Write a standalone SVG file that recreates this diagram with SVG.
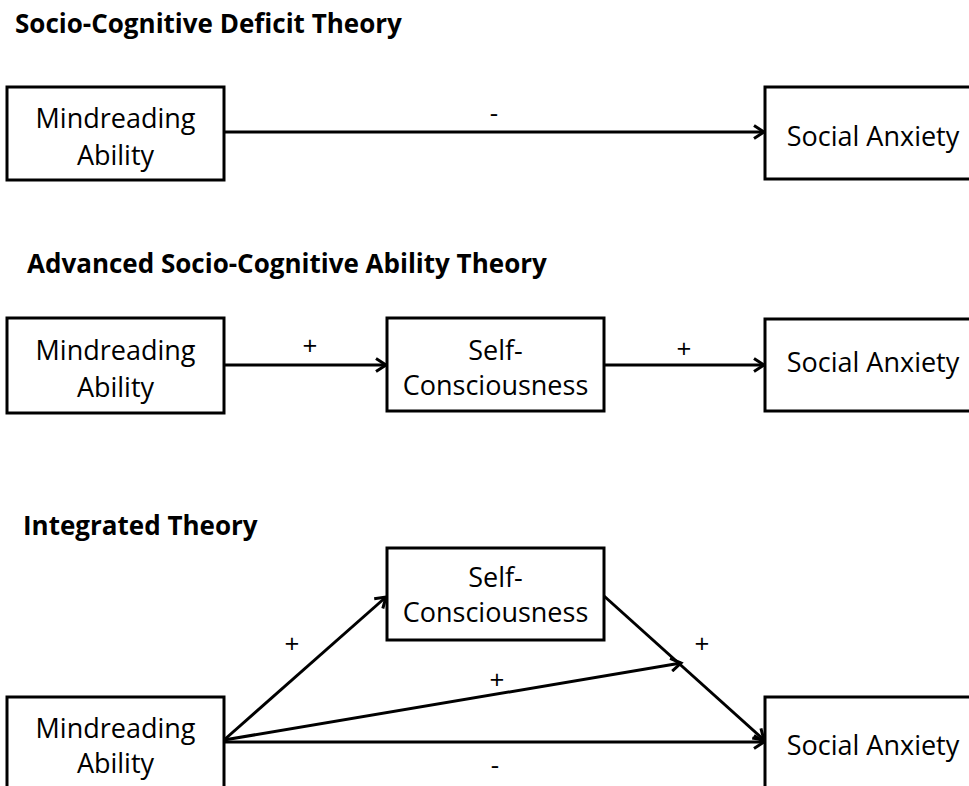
<svg xmlns="http://www.w3.org/2000/svg" width="969" height="786" viewBox="0 0 969 786">
<style>
.box{fill:#fff;stroke:#000;stroke-width:3}
.t{font-family:"Open Sans","Liberation Sans",sans-serif;font-size:27px;fill:#000;text-anchor:middle}
.h{font-family:"Open Sans","Liberation Sans",sans-serif;font-size:26px;font-weight:bold;fill:#000}
.l{font-family:"Open Sans","Liberation Sans",sans-serif;font-size:26px;fill:#000;text-anchor:middle}
.c{stroke:#000;stroke-width:3;fill:none;marker-end:url(#ah)}
</style>
<defs>
<marker id="ah" markerUnits="userSpaceOnUse" markerWidth="16" markerHeight="16" refX="12" refY="8" orient="auto">
<path d="M2,1.5 L12,8 L2,14.5" fill="none" stroke="#000" stroke-width="3"/>
</marker>
</defs>
<rect width="969" height="786" fill="#fff"/>

<text class="h" x="15" y="33">Socio-Cognitive  Deficit Theory</text>
<text class="h" x="27" y="273">Advanced Socio-Cognitive Ability Theory</text>
<text class="h" x="23" y="535">Integrated Theory</text>

<g id="connectors">
<line class="c" x1="224" y1="132" x2="764" y2="132"/>
<line class="c" x1="224" y1="365" x2="386" y2="365"/>
<line class="c" x1="604" y1="365" x2="764" y2="365"/>
<line class="c" x1="224" y1="740" x2="386" y2="597"/>
<line class="c" x1="224" y1="740" x2="681" y2="663"/>
<line class="c" x1="224" y1="742" x2="764" y2="742"/>
<line class="c" x1="604" y1="596" x2="764" y2="740"/>
<text class="l" x="494" y="122">-</text>
<text class="l" x="310" y="355">+</text>
<text class="l" x="684" y="358">+</text>
<text class="l" x="292" y="653">+</text>
<text class="l" x="497" y="689">+</text>
<text class="l" x="702" y="653">+</text>
<text class="l" x="495" y="774">-</text>
</g>

<g id="mind1">
<rect class="box" x="7" y="87" width="217" height="93"/>
<text class="t" x="115.5" y="128">Mindreading</text>
<text class="t" x="115.5" y="165">Ability</text>
</g>
<g id="anx1">
<rect class="box" x="765" y="87" width="220" height="92"/>
<text class="t" x="873" y="146">Social Anxiety</text>
</g>

<g id="mind2">
<rect class="box" x="7" y="318" width="217" height="95"/>
<text class="t" x="115.5" y="360">Mindreading</text>
<text class="t" x="115.5" y="397">Ability</text>
</g>
<g id="self2">
<rect class="box" x="387" y="318" width="217" height="93"/>
<text class="t" x="495.5" y="360">Self-</text>
<text class="t" x="495.5" y="395">Consciousness</text>
</g>
<g id="anx2">
<rect class="box" x="765" y="319" width="220" height="92"/>
<text class="t" x="873" y="372">Social Anxiety</text>
</g>

<g id="self3">
<rect class="box" x="387" y="548" width="217" height="92"/>
<text class="t" x="495.5" y="587">Self-</text>
<text class="t" x="495.5" y="622">Consciousness</text>
</g>
<g id="mind3">
<rect class="box" x="7" y="697" width="217" height="110"/>
<text class="t" x="115.5" y="738">Mindreading</text>
<text class="t" x="115.5" y="773">Ability</text>
</g>
<g id="anx3">
<rect class="box" x="765" y="697" width="220" height="110"/>
<text class="t" x="873" y="755">Social Anxiety</text>
</g>
</svg>
